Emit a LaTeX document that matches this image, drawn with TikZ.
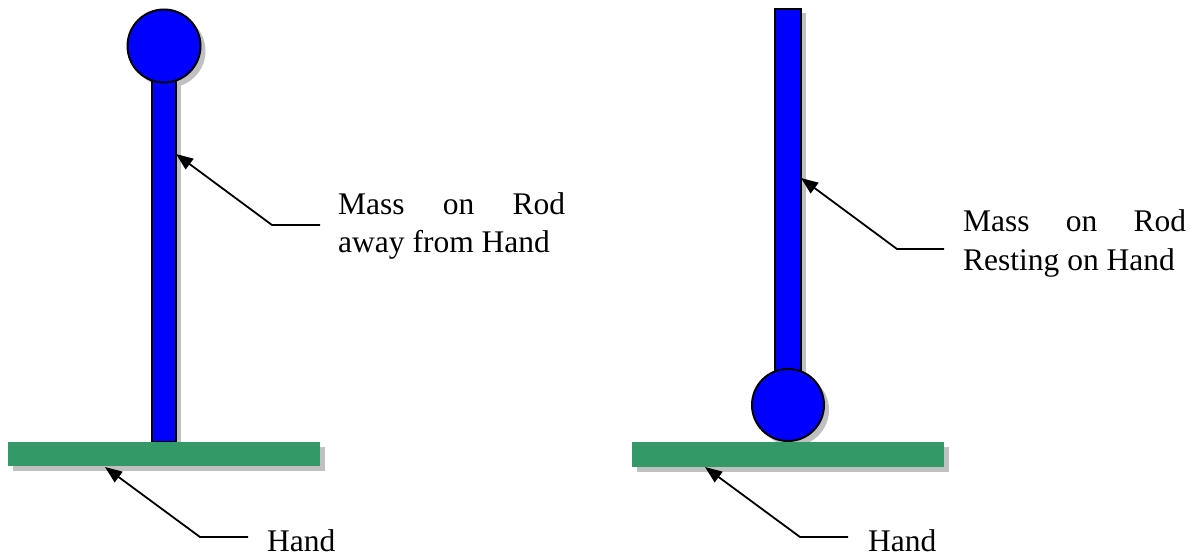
\documentclass[tikz,border=0pt]{standalone}
\usepackage{fontspec}
\setmainfont{Liberation Serif}
\usetikzlibrary{arrows.meta}
\definecolor{plategreen}{RGB}{51,153,102}
\definecolor{shadowgray}{RGB}{192,192,192}
\tikzset{
  shadowfill/.style={fill=shadowgray, draw=none},
  rodbox/.style={fill=blue, draw=black, line width=2.5pt},
  ballshape/.style={fill=blue, draw=black, line width=2pt},
  platebox/.style={fill=plategreen, draw=none},
  pointer/.style={draw=black, line width=1.8pt, -{Triangle[length=17pt,width=13pt]}},
  label/.style={inner sep=0pt, font=\fontsize{31.5}{37}\selectfont, anchor=base west, text depth=0pt},
}
\begin{document}
\begin{tikzpicture}[x=1pt,y=-1pt]
\useasboundingbox (0,0) rectangle (1197,556);
% ---------- left figure ----------
% shadows
\fill[shadowgray] (157,85) rectangle (181,447);
\fill[shadowgray] (169,51) circle (36.5);
\fill[shadowgray] (13,447) rectangle (325,471);
% shapes
\draw[rodbox] (152,60) rectangle (176,442);
\node[ballshape, circle, minimum size=73pt, inner sep=0pt] (ballL) at (164,46) {};
\fill[platebox] (8,442) rectangle (320,466);
\coordinate (plateL) at (105,467);
\coordinate (rodL) at (176,154);
% labels
\node[label] (massL1) at (338,215) {\makebox[227pt][s]{Mass on Rod}};
\node[label] (massL2) at (338,252) {away from Hand};
\node[label] (handL) at (267,551) {Hand};
\coordinate (kneeRodL) at (272,225);
\coordinate (endRodL) at (320,225);
\coordinate (kneeHandL) at (200,537);
\coordinate (endHandL) at (248,537);
\draw[pointer] (endRodL) -- (kneeRodL) -- (rodL);
\draw[pointer] (endHandL) -- (kneeHandL) -- (plateL);
% ---------- right figure ----------
% shadows
\fill[shadowgray] (780,13) rectangle (806,410);
\fill[shadowgray] (793,410) circle (36);
\fill[shadowgray] (637,447) rectangle (949,472);
% shapes
\draw[rodbox] (775,9) rectangle (801,400);
\node[ballshape, circle, minimum size=72pt, inner sep=0pt] (ballR) at (788,405) {};
\fill[platebox] (632,442) rectangle (944,467);
\coordinate (plateR) at (705,467);
\coordinate (rodR) at (801,178);
% labels
\node[label] (massR1) at (963,232) {\makebox[223pt][s]{Mass on Rod}};
\node[label] (massR2) at (963,270) {Resting on Hand};
\node[label] (handR) at (868,551) {Hand};
\coordinate (kneeRodR) at (897,249);
\coordinate (endRodR) at (944,249);
\coordinate (kneeHandR) at (800,537);
\coordinate (endHandR) at (848,537);
\draw[pointer] (endRodR) -- (kneeRodR) -- (rodR);
\draw[pointer] (endHandR) -- (kneeHandR) -- (plateR);
\end{tikzpicture}
\end{document}
